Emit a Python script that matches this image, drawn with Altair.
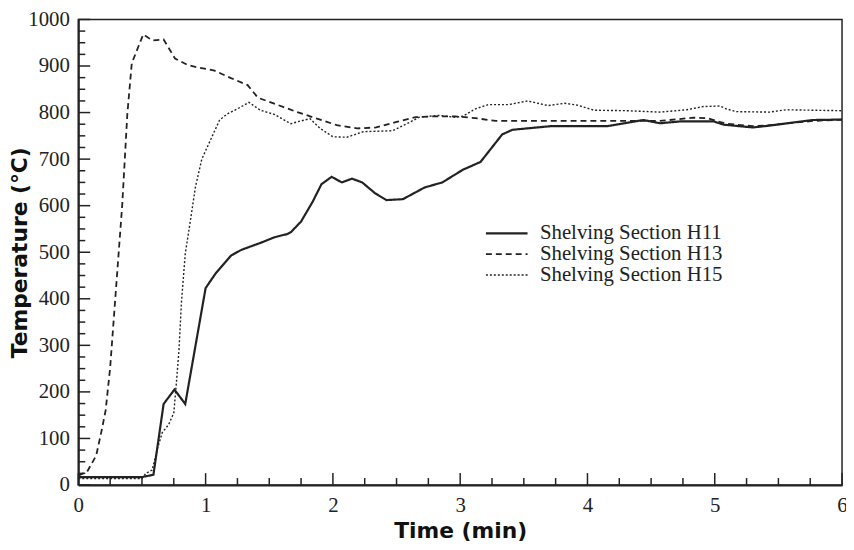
import altair as alt
import pandas as pd

# ---- data ----
h11_t = [0, 0.5, 0.59, 0.67, 0.755, 0.84, 1.0, 1.08, 1.2, 1.28, 1.43, 1.54, 1.64, 1.67, 1.75, 1.84,
         1.91, 1.99, 2.07, 2.15, 2.23, 2.33, 2.42, 2.55, 2.72, 2.86, 3.02, 3.16, 3.33, 3.41, 3.72,
         4.16, 4.44, 4.57, 4.73, 4.99, 5.07, 5.30, 5.40, 5.77, 6.0]
h11_v = [17, 17, 22, 174, 205, 174, 423, 455, 493, 505, 520, 532, 539, 543, 566, 608,
         646, 662, 650, 658, 650, 627, 612, 614, 639, 650, 677, 694, 753, 763, 771,
         771, 784, 777, 781, 781, 774, 768, 771, 784, 785]

h13_t = [0, 0.07, 0.14, 0.18, 0.215, 0.25, 0.345, 0.385, 0.42, 0.51, 0.58, 0.67, 0.76, 0.86, 0.94,
         1.07, 1.2, 1.33, 1.41, 1.72, 1.875, 2.03, 2.19, 2.34, 2.5, 2.65, 2.81, 2.96, 3.12, 3.28,
         4.57, 4.83, 4.94, 5.09, 5.3, 5.4, 5.77, 6.0]
h13_v = [20, 29, 63, 113, 161, 252, 602, 797, 906, 968, 955, 957, 916, 902, 897,
         890, 874, 859, 832, 801, 787, 773, 766, 768, 780, 790, 792, 792, 788, 782,
         782, 789, 788, 776, 771, 772, 782, 785]

h15_t = [0, 0.5, 0.53, 0.58, 0.62, 0.66, 0.71, 0.75, 0.77, 0.79, 0.81, 0.84, 0.88, 0.92, 0.97,
         1.04, 1.11, 1.17, 1.25, 1.34, 1.43, 1.54, 1.67, 1.72, 1.82, 1.9, 2.0, 2.11, 2.24, 2.47,
         2.58, 2.68, 2.83, 2.96, 3.02, 3.12, 3.22, 3.38, 3.53, 3.69, 3.82, 3.92, 4.05, 4.31, 4.57,
         4.78, 4.91, 5.04, 5.09, 5.17, 5.43, 5.56, 5.77, 6.0]
h15_v = [14, 14, 25, 32, 77, 113, 130, 155, 218, 287, 392, 497, 567, 640, 700,
         742, 784, 797, 808, 822, 805, 796, 776, 780, 787, 766, 748, 747, 759, 761,
         776, 790, 794, 790, 792, 808, 817, 817, 825, 815, 820, 816, 805, 804, 801,
         806, 813, 814, 808, 802, 801, 806, 805, 804]

series_names = ["Shelving Section H11", "Shelving Section H13", "Shelving Section H15"]
x_tick_labels = [0, 1, 2, 3, 4, 5, 6]
y_tick_labels = [0, 100, 200, 300, 400, 500, 600, 700, 800, 900, 1000]
x_minor = [i * 0.25 for i in range(0, 25)]
y_minor = [i * 25 for i in range(0, 41)]

rows = []
for name, ts, vs in zip(series_names, [h11_t, h13_t, h15_t], [h11_v, h13_v, h15_v]):
    for t, v in zip(ts, vs):
        rows.append({"series": name, "t": t, "v": v})
df = pd.DataFrame(rows)

xdf = pd.DataFrame({"t": x_minor, "major": [abs(x - round(x)) < 1e-9 for x in x_minor]})
ydf = pd.DataFrame({"v": y_minor, "major": [y % 100 == 0 for y in y_minor]})

W, H = 771, 470
xscale = alt.Scale(domain=[0, 6], nice=False, zero=False)
yscale = alt.Scale(domain=[0, 1000], nice=False)
INK = "#222222"
SERIF = "Liberation Serif"
HEAVY = "DejaVu Sans"

xaxis = alt.Axis(values=x_tick_labels, title="Time (min)", format="d",
                 ticks=False, labelPadding=10, titlePadding=5, grid=False,
                 labelFont=SERIF, labelFontSize=21, labelColor=INK, labelFlush=False,
                 titleFont=HEAVY, titleFontSize=22, titleFontWeight="bold", titleColor="#111111",
                 domainColor=INK, domainWidth=2)
yaxis = alt.Axis(values=y_tick_labels, title="Temperature (°C)", format="d",
                 ticks=False, labelPadding=9, grid=False,
                 labelFont=SERIF, labelFontSize=21, labelColor=INK, labelFlush=False,
                 titleFont=HEAVY, titleFontSize=22, titleFontWeight="bold", titleColor="#111111",
                 titleX=-59, titleY=H / 2, titleAngle=270, titleBaseline="middle",
                 domainColor=INK, domainWidth=2)

legend = alt.Legend(
    title=None, orient="none", legendX=410, legendY=206,
    symbolType="stroke", symbolSize=1764, symbolStrokeColor=INK,
    labelFont=SERIF, labelFontSize=21, labelColor=INK, labelLimit=400,
    labelOffset=11, rowPadding=0, padding=0, clipHeight=20,
)

lines = alt.Chart(df).mark_line(color=INK).encode(
    x=alt.X("t:Q", scale=xscale, axis=xaxis),
    y=alt.Y("v:Q", scale=yscale, axis=yaxis),
    strokeDash=alt.StrokeDash("series:N",
                              scale=alt.Scale(domain=series_names,
                                              range=[[1, 0], [6, 4], [2, 2]]),
                              legend=legend),
    strokeWidth=alt.StrokeWidth("series:N",
                                scale=alt.Scale(domain=series_names, range=[2.2, 1.4, 1.6]),
                                legend=legend),
)

ytick_major = alt.Chart(ydf).transform_filter("datum.major").mark_rule(
    color=INK, strokeWidth=1.5).encode(
    y=alt.Y("v:Q", scale=yscale, axis=yaxis), x=alt.value(0), x2=alt.value(12))
ytick_minor = alt.Chart(ydf).transform_filter("!datum.major").mark_rule(
    color=INK, strokeWidth=1.5).encode(
    y=alt.Y("v:Q", scale=yscale, axis=yaxis), x=alt.value(0), x2=alt.value(7))
xtick_major = alt.Chart(xdf).transform_filter("datum.major").mark_rule(
    color=INK, strokeWidth=1.5).encode(
    x=alt.X("t:Q", scale=xscale, axis=xaxis), y=alt.value(H), y2=alt.value(H - 12))
xtick_minor = alt.Chart(xdf).transform_filter("!datum.major").mark_rule(
    color=INK, strokeWidth=1.5).encode(
    x=alt.X("t:Q", scale=xscale, axis=xaxis), y=alt.value(H), y2=alt.value(H - 7))

chart = alt.layer(lines, ytick_major, ytick_minor, xtick_major, xtick_minor).properties(
    width=W, height=H,
    autosize=alt.AutoSizeParams(type="none"),
    padding={"left": 71, "top": 9, "right": 4, "bottom": 58},
).configure_view(
    stroke=INK, strokeWidth=1.5
)

chart.save("out.html", embed_options={"renderer": "svg", "actions": False})
